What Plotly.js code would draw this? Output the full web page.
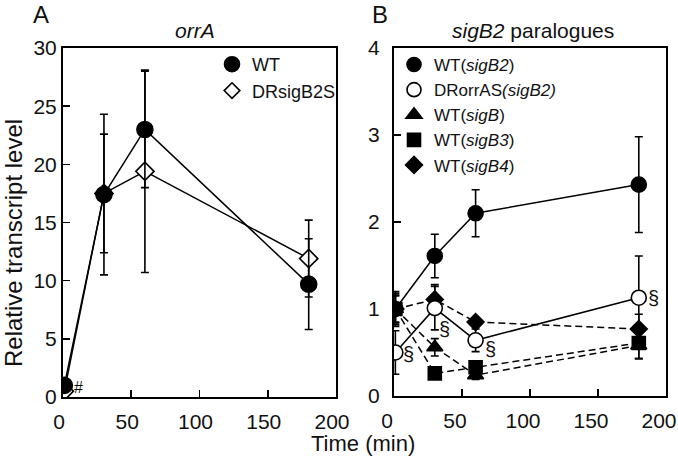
<!DOCTYPE html>
<html>
<head>
<meta charset="utf-8">
<script src="https://cdn.plot.ly/plotly-3.0.1.min.js"></script>
<style>html,body{margin:0;padding:0;background:#fff}#chart{width:678px;height:457px}</style>
</head>
<body>
<div id="chart"></div>
<script>
// ---- Data ----
var timeA = [1, 30, 60, 180];
var wtA = [1.0, 17.4, 23.0, 9.7];
var wtAErr = [0.3, 6.9, 5.0, 3.9];
var drA = [0.5, 17.5, 19.4, 11.9];
var drAErr = [0.2, 5.1, 8.7, 3.3];

var timeB = [1, 30, 60, 180];
var wtSigB2 = [1.0, 1.61, 2.10, 2.43];
var wtSigB2Err = [0.16, 0.25, 0.27, 0.55];
var drSigB2 = [0.5, 1.01, 0.64, 1.13];
var drSigB2Err = [0.25, 0.25, 0.13, 0.48];
var wtSigB = [1.0, 0.56, 0.24, 0.58];
var wtSigBErr = [0.18, 0.10, 0.05, 0.15];
var wtSigB3 = [1.0, 0.26, 0.33, 0.61];
var wtSigB3Err = [0.15, 0.05, 0.06, 0.18];
var wtSigB4 = [1.0, 1.11, 0.85, 0.77];
var wtSigB4Err = [0.20, 0.17, 0.05, 0.17];

var namesA = ['WT', 'DRsigB2S'];
var namesB = ['WT(<i>sigB2</i>)', 'DRorrAS<i>(sigB2)</i>', 'WT(<i>sigB</i>)', 'WT(<i>sigB3</i>)', 'WT(<i>sigB4</i>)'];
var xTicks = [0, 50, 100, 150, 200];

// ---- Styles ----
var FONT = '"Liberation Sans", Arial, Helvetica, sans-serif';
var INK = '#111';
function eb(arr){ return {type:'data', array:arr, visible:true, color:'#000', thickness:1.6, width:4}; }
function tr(x, y, err, xa, ya, sym, size, fill, dash){
  return {x:x, y:y, xaxis:xa, yaxis:ya, type:'scatter', mode:'lines+markers', showlegend:false,
    error_y:eb(err),
    line:{color:'#000', width:1.5, dash:dash},
    marker:{symbol:sym, size:size, color:fill, line:{color:'#000', width:1.6}}};
}
function legTr(name, sym, size, fill, leg){
  return {x:[null], y:[null], type:'scatter', mode:'markers', name:name, legend:leg,
    xaxis: leg==='legend' ? 'x' : 'x2', yaxis: leg==='legend' ? 'y' : 'y2',
    marker:{symbol:sym, size:size, color:fill, line:{color:'#000', width:1.6}}};
}
var DASH = '7px,4px';

var data = [
  tr(timeA, drA, drAErr, 'x', 'y', 'diamond', 14, '#fff', 'solid'),
  tr(timeA, wtA, wtAErr, 'x', 'y', 'circle', 16, '#000', 'solid'),
  tr(timeB, wtSigB3, wtSigB3Err, 'x2', 'y2', 'square', 13, '#000', DASH),
  tr(timeB, wtSigB, wtSigBErr, 'x2', 'y2', 'triangle-up', 14, '#000', DASH),
  tr(timeB, wtSigB4, wtSigB4Err, 'x2', 'y2', 'diamond', 13, '#000', DASH),
  tr(timeB, drSigB2, drSigB2Err, 'x2', 'y2', 'circle', 15, '#fff', 'solid'),
  tr(timeB, wtSigB2, wtSigB2Err, 'x2', 'y2', 'circle', 15, '#000', 'solid'),
  legTr(namesA[0], 'circle', 15, '#000', 'legend'),
  legTr(namesA[1], 'diamond', 12, '#fff', 'legend'),
  legTr(namesB[0], 'circle', 14, '#000', 'legend2'),
  legTr(namesB[1], 'circle', 14, '#fff', 'legend2'),
  legTr(namesB[2], 'triangle-up', 14, '#000', 'legend2'),
  legTr(namesB[3], 'square', 13, '#000', 'legend2'),
  legTr(namesB[4], 'diamond', 13, '#000', 'legend2')
];

var W = 678, H = 457;
function px(v){ return v / W; }
function py(v){ return 1 - v / H; }

var axBase = {showgrid:false, zeroline:false, showline:true, mirror:true, linecolor:'#000', linewidth:2,
  ticks:'inside', ticklen:7, tickwidth:1.6, tickcolor:'#000',
  tickfont:{family:FONT, size:21, color:INK}, fixedrange:true, ticklabeloverflow:'allow'};
function ax(extra){ return Object.assign({}, axBase, extra); }

var layout = {
  width:W, height:H, margin:{l:0, r:0, t:0, b:0},
  paper_bgcolor:'#fff', plot_bgcolor:'#fff',
  font:{family:FONT, color:INK},
  xaxis: ax({domain:[px(63), px(336)], range:[0,200], tickvals:xTicks, anchor:'y', ticklabelshift:-4, ticklabelstandoff:5}),
  yaxis: ax({domain:[py(397), py(48)], range:[0,30], dtick:5, anchor:'x', ticklabelstandoff:0}),
  xaxis2: ax({domain:[px(394), px(666)], range:[0,200], tickvals:xTicks, anchor:'y2', ticklabelshift:-7, ticklabelstandoff:5}),
  yaxis2: ax({domain:[py(396), py(48)], range:[0,4], dtick:1, anchor:'x2', ticklabelstandoff:8}),
  showlegend:true,
  legend:{x:px(341), xanchor:'right', y:py(46), yanchor:'top', bgcolor:'rgba(0,0,0,0)',
    font:{family:FONT, size:18, color:INK}, itemwidth:30, tracegroupgap:0, itemclick:false},
  legend2:{x:px(394), xanchor:'left', y:py(47), yanchor:'top', bgcolor:'rgba(0,0,0,0)',
    font:{family:FONT, size:17, color:INK}, itemwidth:30, tracegroupgap:0, itemclick:false},
  annotations:[
    {text:'A', xref:'paper', yref:'paper', x:px(41), y:py(15), xanchor:'center', yanchor:'middle', showarrow:false,
      font:{family:FONT, size:24, color:INK}},
    {text:'B', xref:'paper', yref:'paper', x:px(380), y:py(15), xanchor:'center', yanchor:'middle', showarrow:false,
      font:{family:FONT, size:24, color:INK}},
    {text:'<i>orrA</i>', xref:'paper', yref:'paper', x:px(195), y:py(31), xanchor:'center', yanchor:'middle', showarrow:false,
      font:{family:FONT, size:21, color:INK}},
    {text:'<i>sigB2</i> paralogues', xref:'paper', yref:'paper', x:px(533), y:py(31), xanchor:'center', yanchor:'middle', showarrow:false,
      font:{family:FONT, size:21, color:INK}},
    {text:'Relative transcript level', xref:'paper', yref:'paper', x:px(14), y:py(243), xanchor:'center', yanchor:'middle',
      textangle:-90, showarrow:false, font:{family:FONT, size:24, color:INK}},
    {text:'Time (min)', xref:'paper', yref:'paper', x:px(363), y:py(443), xanchor:'center', yanchor:'middle', showarrow:false,
      font:{family:FONT, size:22, color:INK}},
    {text:'#', xref:'x', yref:'y', x:timeA[0], y:wtA[0], xshift:14, yshift:-2, showarrow:false,
      font:{family:FONT, size:16, color:INK}},
    {text:'§', xref:'x2', yref:'y2', x:timeB[0], y:drSigB2[0], xshift:13, yshift:-1, showarrow:false,
      font:{family:FONT, size:20, color:INK}},
    {text:'§', xref:'x2', yref:'y2', x:timeB[1], y:drSigB2[1], xshift:10, yshift:-21, showarrow:false,
      font:{family:FONT, size:20, color:INK}},
    {text:'§', xref:'x2', yref:'y2', x:timeB[2], y:drSigB2[2], xshift:15, yshift:-9, showarrow:false,
      font:{family:FONT, size:20, color:INK}},
    {text:'§', xref:'x2', yref:'y2', x:timeB[3], y:drSigB2[3], xshift:15, yshift:0, showarrow:false,
      font:{family:FONT, size:20, color:INK}}
  ]
};

Plotly.newPlot('chart', data, layout, {staticPlot:true, displayModeBar:false});
</script>
</body>
</html>
